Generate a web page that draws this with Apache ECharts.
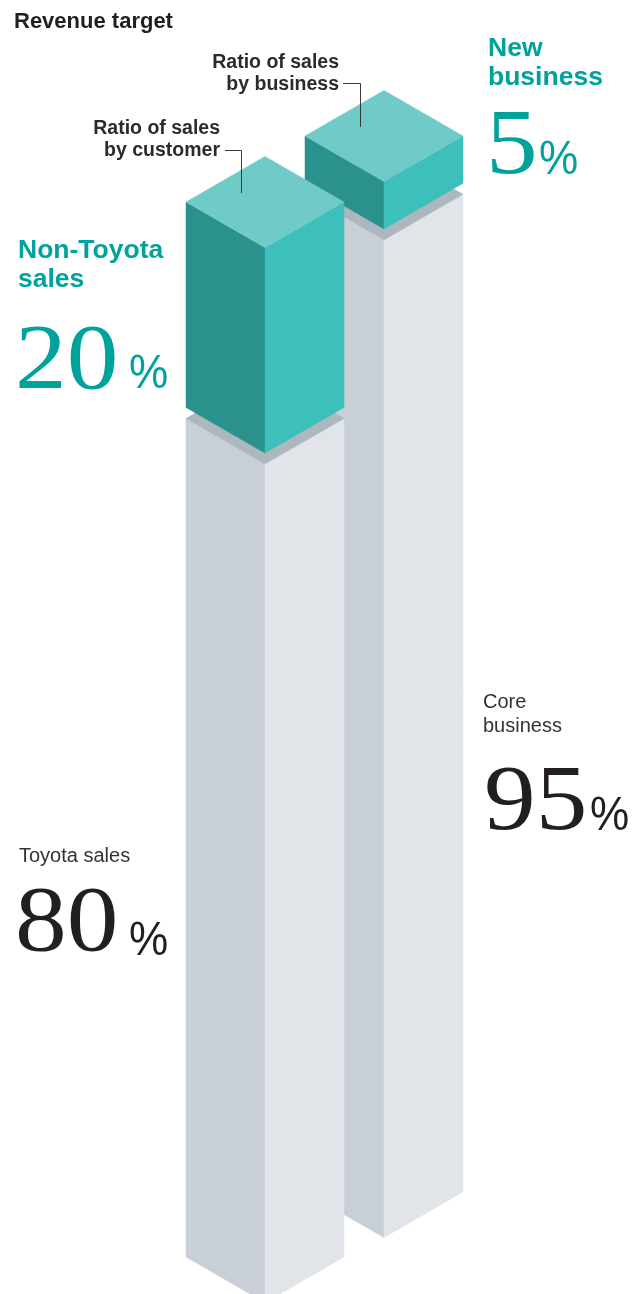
<!DOCTYPE html>
<html>
<head>
<meta charset="utf-8">
<style>
  html, body { margin: 0; padding: 0; background: #fff; }
  #chart { width: 635px; height: 1294px; }
</style>
<script src="https://cdn.jsdelivr.net/npm/echarts@6/dist/echarts.min.js"></script>
</head>
<body>
<div id="chart"></div>
<script>
// stacked shares, bottom block first
const customerCategories = ['Toyota sales', 'Non-Toyota sales'];
const customerValues = [80, 20];
const businessCategories = ['Core business', 'New business'];
const businessValues = [95, 5];

const TEAL = '#00a29c';
const INK = '#231f20';
const GAP = 11; // px between stacked blocks
const TONES = [
  { left: '#c8cfd6', right: '#e1e5e9', top: '#adb8be' }, // grey base block
  { left: '#2a918c', right: '#3dbfbc', top: '#6fcac8' }, // teal upper block
];

function stack(values) {
  let acc = 0;
  return values.map((v, i) => {
    const item = [0, acc, acc + v, i];
    acc += v;
    return item;
  });
}

// isometric block between two stacked values
function renderBlock(params, api) {
  const start = api.value(1);
  const end = api.value(2);
  const tone = TONES[api.value(3)];
  const lo = api.coord([0, start]);
  const hi = api.coord([0, end]);
  const w = api.size([1, 0])[0] * 0.395;
  const d = w * Math.tan(Math.PI / 6);
  const cx = lo[0];
  const yb = lo[1] - (start > 0 ? GAP / 2 : 0);
  const yt = hi[1] + (end < 100 ? GAP / 2 : 0);
  const face = (pts, fill) => ({
    type: 'polygon',
    shape: { points: pts },
    style: { fill, stroke: fill, lineWidth: 0.5 },
  });
  return {
    type: 'group',
    children: [
      face([[cx - w, yt], [cx, yt + d], [cx, yb + d], [cx - w, yb]], tone.left),
      face([[cx, yt + d], [cx + w, yt], [cx + w, yb], [cx, yb + d]], tone.right),
      face([[cx - w, yt], [cx, yt - d], [cx + w, yt], [cx, yt + d]], tone.top),
    ],
  };
}

function txt(x, y, text, font, color, extra) {
  return {
    type: 'text', x, y, z: 10,
    style: Object.assign({
      text, fill: color, font, align: 'left', verticalAlign: 'middle',
    }, extra || {}),
  };
}

// big share figure: serif number plus narrow sans percent sign
function figure(x, y, value, color, pctX, pctY) {
  return [
    Object.assign(txt(x, y, String(value), '94px ' + SERIF, color), { scaleX: 1.1 }),
    Object.assign(txt(pctX, pctY, '%', '49px ' + SANS, color), { scaleX: 0.9 }),
  ];
}

const SANS = '"Liberation Sans", Arial, sans-serif';
const SERIF = '"Liberation Serif", "Times New Roman", serif';

const chart = echarts.init(document.getElementById('chart'));

chart.setOption({
  animation: false,
  grid: [
    { left: 165, width: 200, top: 202, height: 1055 }, // customer (front)
    { left: 284, width: 200, top: 136, height: 1056 }, // business (behind)
  ],
  xAxis: [
    { gridIndex: 0, type: 'category', data: ['customer'], show: false },
    { gridIndex: 1, type: 'category', data: ['business'], show: false },
  ],
  yAxis: [
    { gridIndex: 0, type: 'value', min: 0, max: 100, show: false },
    { gridIndex: 1, type: 'value', min: 0, max: 100, show: false },
  ],
  series: [
    {
      type: 'custom', name: 'Ratio of sales by business',
      xAxisIndex: 1, yAxisIndex: 1, z: 1,
      renderItem: renderBlock,
      data: stack(businessValues),
    },
    {
      type: 'custom', name: 'Ratio of sales by customer',
      xAxisIndex: 0, yAxisIndex: 0, z: 2,
      renderItem: renderBlock,
      data: stack(customerValues),
    },
  ],
  graphic: [
    txt(14, 22, 'Revenue target', 'bold 22px ' + SANS, INK),

    txt(339, 74, 'Ratio of sales\nby business', 'bold 19.5px ' + SANS, '#2b2b2b', { align: 'right', lineHeight: 22 }),
    { type: 'polyline', z: 10, shape: { points: [[343, 83.5], [360.5, 83.5], [360.5, 127]] }, style: { stroke: '#3a3a3a', lineWidth: 1, fill: null } },
    txt(220, 140, 'Ratio of sales\nby customer', 'bold 19.5px ' + SANS, '#2b2b2b', { align: 'right', lineHeight: 22 }),
    { type: 'polyline', z: 10, shape: { points: [[225, 150.5], [241.5, 150.5], [241.5, 193]] }, style: { stroke: '#3a3a3a', lineWidth: 1, fill: null } },

    txt(488, 63, businessCategories[1].replace(' ', '\n'), 'bold 26.5px ' + SANS, TEAL, { lineHeight: 29 }),
    ...figure(486, 148, businessValues[1], TEAL, 539, 160),

    txt(18, 265, 'Non-Toyota\nsales', 'bold 26.5px ' + SANS, TEAL, { lineHeight: 29 }),
    ...figure(15, 363, customerValues[1], TEAL, 129, 374.5),

    txt(483, 714, businessCategories[0].replace(' ', '\n'), '20px ' + SANS, '#333', { lineHeight: 24 }),
    ...figure(484, 804, businessValues[0], INK, 590, 816),

    txt(19, 856, customerCategories[0], '20px ' + SANS, '#333'),
    ...figure(15, 925, customerValues[0], INK, 129, 941),
  ],
});
</script>
</body>
</html>
